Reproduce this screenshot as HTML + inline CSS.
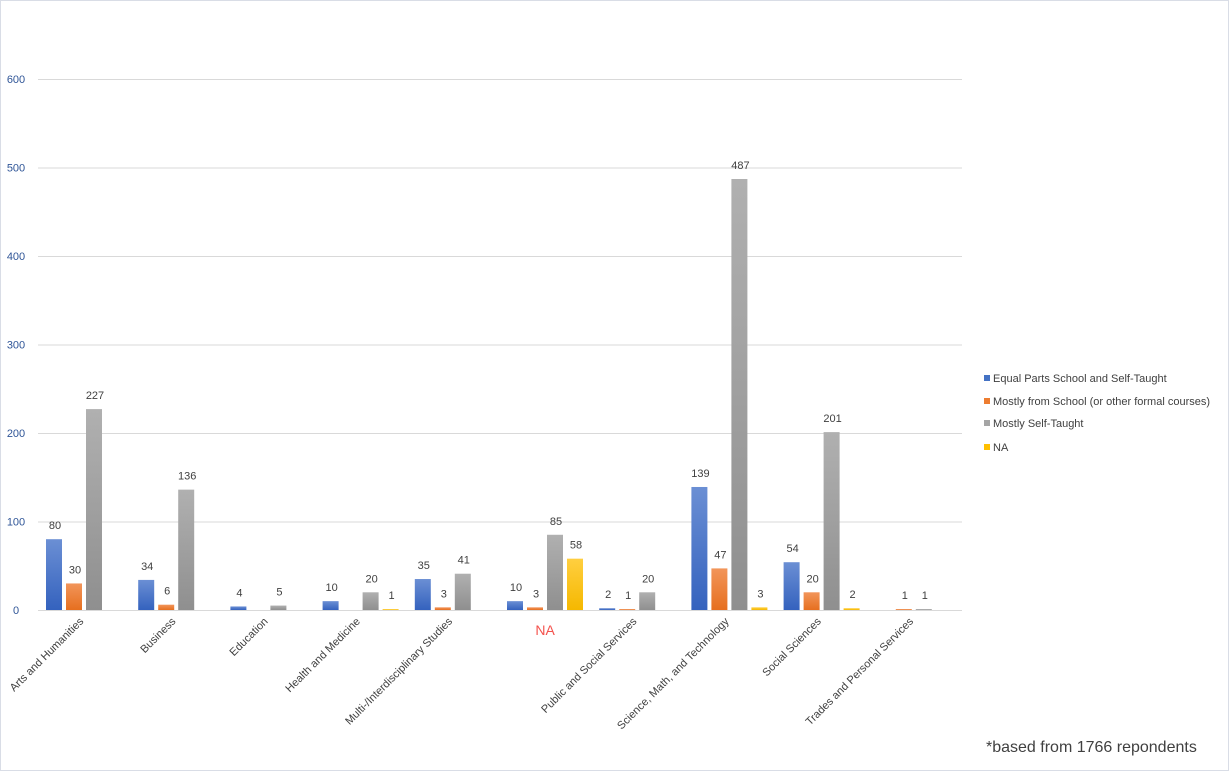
<!DOCTYPE html>
<html><head><meta charset="utf-8"><style>
body{margin:0;background:#fff}
svg{display:block;font-family:"Liberation Sans",sans-serif}
</style></head><body>
<svg id="chart" width="1229" height="771" viewBox="0 0 1229 771">
<defs>
<linearGradient id="gb" x1="0" y1="0" x2="0" y2="1"><stop offset="0" stop-color="#6b8fd4"/><stop offset="1" stop-color="#3462be"/></linearGradient>
<linearGradient id="go" x1="0" y1="0" x2="0" y2="1"><stop offset="0" stop-color="#f2955a"/><stop offset="1" stop-color="#e66f1f"/></linearGradient>
<linearGradient id="gg" x1="0" y1="0" x2="0" y2="1"><stop offset="0" stop-color="#b0b0b0"/><stop offset="1" stop-color="#8f8f8f"/></linearGradient>
<linearGradient id="gy" x1="0" y1="0" x2="0" y2="1"><stop offset="0" stop-color="#ffcf40"/><stop offset="1" stop-color="#f5b800"/></linearGradient>
</defs>
<rect x="0.5" y="0.5" width="1228" height="770" fill="#fff" stroke="#d9dde6"/>
<g id="grid"></g><g id="bars"></g><g id="labels"></g>
<g font-size="11" fill="#404040">
<rect x="984" y="375" width="6" height="6" fill="#4472C4"/>
<text x="993" y="382">Equal Parts School and Self-Taught</text>
<rect x="984" y="398" width="6" height="6" fill="#ED7D31"/>
<text x="993" y="405">Mostly from School (or other formal courses)</text>
<rect x="984" y="420" width="6" height="6" fill="#A5A5A5"/>
<text x="993" y="427">Mostly Self-Taught</text>
<rect x="984" y="444" width="6" height="6" fill="#FFC000"/>
<text x="993" y="451">NA</text>
</g>
<text x="986" y="752" font-size="16" fill="#404040">*based from 1766 repondents</text>
</svg>
<script>
const categories=["Arts and Humanities","Business","Education","Health and Medicine","Multi-/Interdisciplinary Studies","NA","Public and Social Services","Science, Math, and Technology","Social Sciences","Trades and Personal Services"];
const equalParts=[80,34,4,10,35,10,2,139,54,null];
const mostlySchool=[30,6,null,null,3,3,1,47,20,1];
const mostlySelf=[227,136,5,20,41,85,20,487,201,1];
const naSeries=[null,null,null,1,null,58,null,3,2,null];
const yTicks=[0,100,200,300,400,500,600];
const NS="http://www.w3.org/2000/svg";
const x0=40,x1=962,yBase=610,yTop=79,yMax=600;
const y=v=>yBase-(v/yMax)*(yBase-yTop);
const bandW=(x1-x0)/categories.length;
const bandX=i=>x0+i*bandW;
function mk(t,a,p){const e=document.createElementNS(NS,t);for(const k in a)e.setAttribute(k,a[k]);p.appendChild(e);return e;}
const grid=document.getElementById('grid'),bars=document.getElementById('bars'),labels=document.getElementById('labels');
yTicks.forEach(t=>{
 const l=mk('line',{x1:38,x2:x1,y1:y(t)+0.5,y2:y(t)+0.5,stroke:'#d9d9d9'},grid);
 
 
 const tx=mk('text',{x:16,y:y(t)+4,'text-anchor':'middle','font-size':11,fill:'#2f5597'},grid);
 tx.textContent=t;
 
 
});
const series=[[equalParts,'url(#gb)','equal'],[mostlySchool,'url(#go)','school'],[mostlySelf,'url(#gg)','self'],[naSeries,'url(#gy)','na']];
categories.forEach((c,i)=>{
 series.forEach((s,j)=>{
  const v=s[0][i]; if(v==null)return;
  const bx=bandX(i)+6+j*20;
  const r=mk('rect',{x:bx,y:y(v),width:16,height:Math.max(yBase-y(v),0.8),fill:s[1]},bars);
  
  
  const t=mk('text',{x:bx+9,y:y(v)-10,'text-anchor':'middle','font-size':11,fill:'#404040'},labels);
  t.textContent=v;
  
  
 });
 const cx=bandX(i)+bandW/2;
 let t;
 if(c==="NA"){
  t=mk('text',{x:cx-2,y:635,'text-anchor':'middle','font-size':14,fill:'#f4524d'},labels);
 } else {
  t=mk('text',{x:cx-2,y:622,'text-anchor':'end','font-size':11,fill:'#404040',transform:`rotate(-45 ${cx-2} 622)`},labels);
 }
 t.textContent=c;
 
 
});
</script>
</body></html>
